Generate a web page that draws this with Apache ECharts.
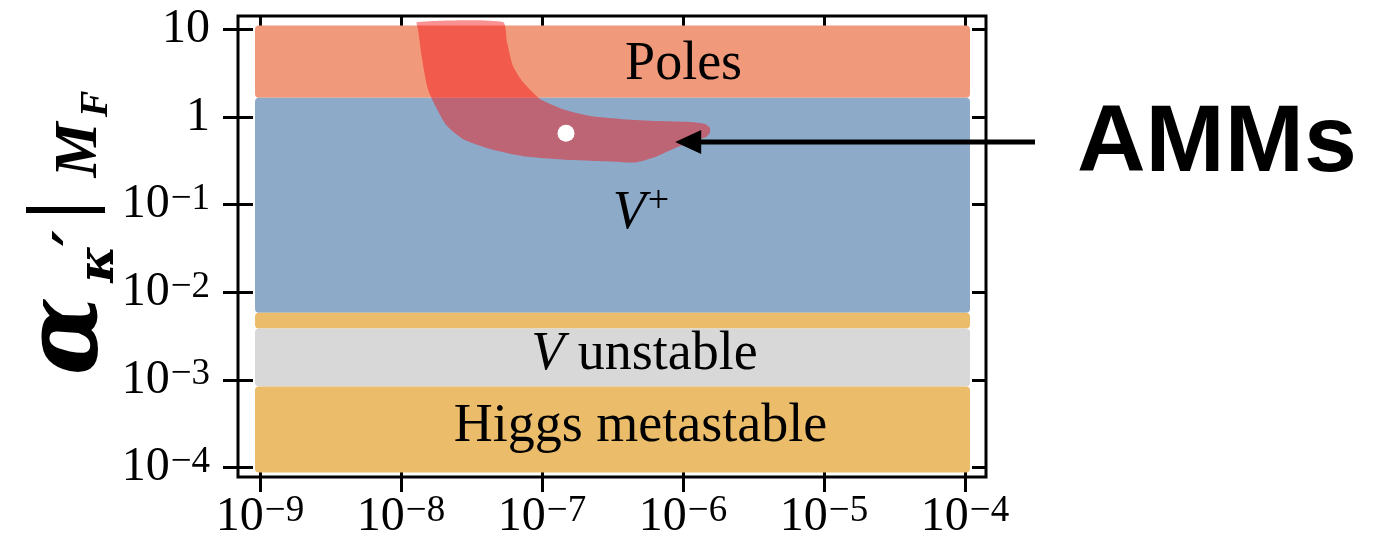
<!DOCTYPE html>
<html>
<head>
<meta charset="utf-8">
<script src="https://cdn.jsdelivr.net/npm/echarts@6/dist/echarts.min.js"></script>
<style>
  html, body { margin: 0; padding: 0; background: #ffffff; }
  #chart { width: 1375px; height: 552px; }
</style>
</head>
<body>
<div id="chart"></div>
<script>
// ---- axes (log-log) ----
const xRange = [1e-9, 1e-4];
const yRange = [1e-4, 10];
const xTickExps = [-9, -8, -7, -6, -5, -4];
const xTickLabels = [['10', '−9'], ['10', '−8'], ['10', '−7'], ['10', '−6'], ['10', '−5'], ['10', '−4']];
const yTickExps = [-4, -3, -2, -1, 0, 1];
const yTickLabels = [['10', '−4'], ['10', '−3'], ['10', '−2'], ['10', '−1'], ['1', ''], ['10', '']];

// ---- scanned regions: horizontal bands spanning the full x range ----
const regionNames = ['Poles', 'V+', 'Edge', 'V unstable', 'Higgs metastable'];
const regionLow   = [1.66, 5.85e-3, 3.85e-3, 8.4e-4, 1e-4];
const regionHigh  = [10, 1.66, 5.85e-3, 3.85e-3, 8.4e-4];

// ---- AMM-compatible region (outline, clockwise) ----
const ammX = [1.30e-8, 1.32e-8, 1.41e-8, 1.55e-8, 1.80e-8, 2.12e-8, 2.75e-8, 4.28e-8, 7.33e-8,
              1.66e-7, 3.75e-7, 4.72e-7, 6.55e-7, 8.49e-7, 1.12e-6, 1.46e-6, 1.55e-6, 1.55e-6, 1.43e-6,
              1.12e-6, 6.55e-7, 3.75e-7, 2.19e-7, 1.41e-7, 9.68e-8, 7.33e-8, 6.22e-8, 5.65e-8, 5.28e-8];
const ammY = [12.2, 10.1, 4.60, 2.09, 1.23, 0.789, 0.561, 0.431, 0.358,
              0.323, 0.306, 0.306, 0.358, 0.431, 0.518, 0.594, 0.661, 0.754, 0.832,
              0.877, 0.900, 0.948, 1.03, 1.23, 1.61, 2.51, 3.83, 7.19, 12.2];

// ---- benchmark point ----
const benchX = [1.48e-7];
const benchY = [0.656];

// ---- region labels ----
const labelText = ['Poles', 'V+', 'V unstable', 'Higgs metastable'];
const labelX = [1.01e-6, 5.04e-7, 5.33e-7, 5.0e-7];
const labelY = [4.15, 0.083, 2.02e-3, 3.09e-4];

// ---- annotation ----
const arrowTip = [8.8e-7, 0.52];
const arrowText = 'AMMs';

// ---- styling ----
const regionColors = {
  'Poles': '#F09A7B',
  'V+': '#8DAAC9',
  'Edge': '#EBBC6A',
  'V unstable': '#D8D8D8',
  'Higgs metastable': '#EBBC6A'
};
const SERIF = '"Liberation Serif", "Times New Roman", serif';
const MATH = '"DejaVu Serif", serif';
const PAD = 5;              // marker radius of the scan grid, px
const GRID = { left: 260, right: 410, top: 29.5, bottom: 84.5, outerBoundsMode: 'none', containLabel: false };
const FRAME = { x: 238, y: 16, w: 748, h: 461 };

function expOf(v) { return Math.round(Math.log10(v)); }
function tickRich(labels, exps) {
  return function (v) {
    const i = exps.indexOf(expOf(v));
    if (i < 0) return '';
    const [b, s] = labels[i];
    return s ? '{b|' + b + '}{s|' + s + '}' : '{b|' + b + '}';
  };
}
const tickRichStyle = {
  b: { fontFamily: SERIF, fontSize: 48, lineHeight: 48, padding: [12, 0, 0, 0], verticalAlign: 'bottom', color: '#000' },
  s: { fontFamily: SERIF, fontSize: 37, lineHeight: 37, verticalAlign: 'top', padding: [0, 0, 0, 1], color: '#000' }
};
const tickLine = { color: '#000', width: 3 };

function logAxis(extra, range) {
  return Object.assign({
    type: 'log', logBase: 10, min: range[0], max: range[1], splitNumber: 5,
    axisLine: { show: false }, splitLine: { show: false }, minorTick: { show: false },
    minorSplitLine: { show: false }, axisLabel: { show: false },
    axisTick: { show: true, inside: true, length: 14, lineStyle: tickLine }
  }, extra);
}

const chart = echarts.init(document.getElementById('chart'), null, { renderer: 'canvas' });

const option = {
  animation: false,
  backgroundColor: '#ffffff',
  grid: GRID,
  xAxis: [
    logAxis({
      position: 'bottom', offset: 9.5,
      axisTick: { show: true, inside: false, length: 15, lineStyle: tickLine },
      axisLabel: { show: true, margin: 16, formatter: tickRich(xTickLabels, xTickExps), rich: tickRichStyle }
    }, xRange),
    logAxis({ position: 'bottom', offset: 9.5 }, xRange),
    logAxis({ position: 'top', offset: 13.5 }, xRange)
  ],
  yAxis: [
    logAxis({
      position: 'left', offset: 22,
      axisTick: { show: true, inside: false, length: 15, lineStyle: tickLine },
      axisLabel: { show: true, margin: 28, formatter: tickRich(yTickLabels, yTickExps), rich: tickRichStyle }
    }, yRange),
    logAxis({ position: 'left', offset: 22, axisTick: { show: true, inside: true, length: 15, lineStyle: tickLine } }, yRange),
    logAxis({ position: 'right', offset: 21 }, yRange)
  ],
  series: [
    {
      // horizontal bands
      type: 'custom', name: 'regions', z: 1, silent: true,
      encode: { x: [0, 2], y: [1, 3] },
      data: regionNames.map((n, i) => [xRange[0], regionLow[i], xRange[1], regionHigh[i]]),
      renderItem: function (params, api) {
        const i = params.dataIndex;
        const tl = api.coord([api.value(0), api.value(3)]);
        const br = api.coord([api.value(2), api.value(1)]);
        const x0 = tl[0] - PAD, x1 = br[0] + PAD;
        const y0 = tl[1] - (api.value(3) >= yRange[1] ? PAD - 1 : 0);
        const y1 = br[1] + (api.value(1) <= yRange[0] ? PAD : 0);
        return {
          type: 'rect',
          shape: { x: x0, y: y0, width: x1 - x0, height: y1 - y0, r: 4 },
          style: { fill: regionColors[regionNames[i]] }
        };
      }
    },
    {
      // AMM region
      type: 'custom', name: 'AMMs', z: 2, silent: true,
      data: [[ammX[0], ammY[0]]],
      renderItem: function (params, api) {
        const pts = ammX.map((x, i) => api.coord([x, ammY[i]]));
        return {
          type: 'polygon',
          shape: { points: pts, smooth: 0.2 },
          style: { fill: 'rgba(245,22,24,0.47)' }
        };
      }
    },
    {
      type: 'scatter', name: 'benchmark', z: 3, silent: true,
      symbol: 'circle', symbolSize: 17,
      itemStyle: { color: '#ffffff', opacity: 1 },
      data: benchX.map((x, i) => [x, benchY[i]])
    },
    {
      // region labels
      type: 'custom', name: 'labels', z: 4, silent: true,
      data: labelX.map((x, i) => [x, labelY[i]]),
      renderItem: function (params, api) {
        const i = params.dataIndex;
        const p = api.coord([api.value(0), api.value(1)]);
        const t = labelText[i];
        let text;
        if (t === 'V+') text = '{i|V}{p|+}';
        else if (t.indexOf('V ') === 0) text = '{i|V}{r| ' + t.slice(2) + '}';
        else text = '{r|' + t + '}';
        return {
          type: 'text', x: p[0], y: p[1],
          style: {
            text: text, align: 'center', verticalAlign: 'middle', fill: '#000',
            font: '54px ' + SERIF,
            rich: {
              r: { fontFamily: SERIF, fontSize: 54, lineHeight: 58, verticalAlign: 'bottom', color: '#000' },
              i: { fontFamily: SERIF, fontStyle: 'italic', fontSize: 54, lineHeight: 58, verticalAlign: 'bottom', color: '#000' },
              p: { fontFamily: SERIF, fontSize: 38, lineHeight: 38, verticalAlign: 'top', color: '#000', padding: [0, 0, 0, 2] }
            }
          }
        };
      }
    }
  ]
};
chart.setOption(option);

// frame, y-axis title, annotation arrow
const tip = chart.convertToPixel({ xAxisIndex: 0, yAxisIndex: 0 }, arrowTip);
const tailX = 1035;
const mathFont = (size, fam) => 'italic bold ' + size + 'px ' + (fam || SERIF);
function rotText(x, y, text, font) {
  return {
    type: 'text', x: x, y: y, rotation: Math.PI / 2, z: 10,
    style: { text: text, font: font, fill: '#000', align: 'center', verticalAlign: 'middle' }
  };
}
chart.setOption({
  graphic: [
    {
      type: 'rect', z: 20, silent: true,
      shape: { x: FRAME.x, y: FRAME.y, width: FRAME.w, height: FRAME.h },
      style: { fill: 'none', stroke: '#000', lineWidth: 3 }
    },
    rotText(70, 336, 'α', mathFont(102, MATH)),
    rotText(100, 264, 'κ', mathFont(50, MATH)),
    rotText(80, 238, '′', mathFont(60, MATH)),
    rotText(64, 210, '|', 'bold 86px ' + SERIF),
    rotText(80, 150, 'M', mathFont(62)),
    rotText(97, 104, 'F', mathFont(40)),
    {
      type: 'line', z: 15, silent: true,
      shape: { x1: tip[0] + 20, y1: tip[1], x2: tailX, y2: tip[1] },
      style: { stroke: '#000', lineWidth: 5 }
    },
    {
      type: 'polygon', z: 15, silent: true,
      shape: { points: [[tip[0], tip[1]], [tip[0] + 26, tip[1] - 12], [tip[0] + 26, tip[1] + 12]] },
      style: { fill: '#000' }
    },
    {
      type: 'text', z: 15, x: 1077, y: tip[1] + 3,
      style: { text: arrowText, font: 'bold 95px "Liberation Sans", Arial, sans-serif', fill: '#000', align: 'left', verticalAlign: 'middle' }
    }
  ]
});
</script>
</body>
</html>
